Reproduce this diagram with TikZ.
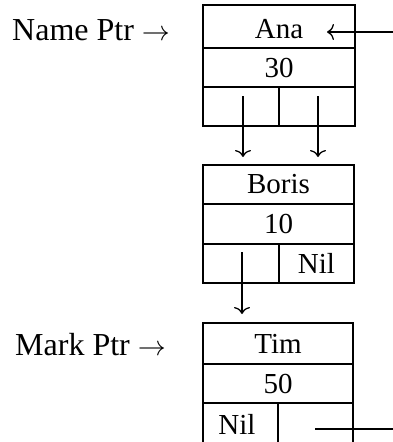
\RequirePackage{fix-cm}
\documentclass[tikz,border=0pt]{standalone}
\usepackage{fontspec}
\setmainfont{Liberation Serif}
\usetikzlibrary{arrows.meta}
\newcommand{\ptrarrow}{{\fontsize{28}{28}\selectfont$\rightarrow$}}
\begin{document}
\begin{tikzpicture}[x=1pt,y=-1pt,
  cell/.style={draw, line width=1.4pt, inner sep=0pt, outer sep=0pt,
    font=\fontsize{29}{30}\selectfont},
  txt/.style={inner sep=0pt, font=\fontsize{29}{30}\selectfont},
  lbl/.style={inner sep=0pt, anchor=base west, font=\fontsize{32}{33}\selectfont},
  arr/.style={line width=1.3pt, -{To[length=7pt,width=16pt]}},
  ln/.style={line width=1.3pt}]
\clip (0,0) rectangle (393,442);
\useasboundingbox (0,0) rectangle (393,442);
% box 1
\node[cell, minimum width=152pt, minimum height=43pt, text height=24pt, text depth=0pt] (ana) at (279,26.5) {Ana};
\node[cell, minimum width=152pt, minimum height=39pt] (a30) at (279,67.5) {30};
\node[cell, minimum width=76pt, minimum height=39pt] (aL) at (241,106.5) {};
\node[cell, minimum width=76pt, minimum height=39pt] (aR) at (317,106.5) {};
% box 2
\node[cell, minimum width=151pt, minimum height=39pt] (boris) at (278.5,184.5) {Boris};
\node[cell, minimum width=151pt, minimum height=40pt] (b10) at (278.5,224) {10};
\node[cell, minimum width=76pt, minimum height=39pt] (bL) at (241,263.5) {};
\node[cell, minimum width=75pt, minimum height=39pt] (bR) at (316.5,263.5) {Nil};
% box 3
\node[cell, minimum width=150pt, minimum height=41pt] (tim) at (278,343.5) {Tim};
\node[cell, minimum width=150pt, minimum height=39pt] (t50) at (278,383.5) {50};
\node[cell, minimum width=75pt, minimum height=49pt] (tL) at (240.5,427.5) {};
\node[cell, minimum width=75pt, minimum height=49pt] (tR) at (315.5,427.5) {};
\node[txt, anchor=base] (tnil) at (237,434) {Nil};
% labels
\node[lbl] (nameptr) at (12,40) {Name Ptr \ptrarrow};
\node[lbl] (markptr) at (15,355) {Mark Ptr \ptrarrow};
% connectors
\coordinate (inStart) at (393,32);
\coordinate (inTip) at (327,32);
\draw[arr] (inStart) -- (inTip);
\coordinate (d1s) at (243,96);
\coordinate (d1e) at (243,157);
\draw[arr] (d1s) -- (d1e);
\coordinate (d2s) at (318,96);
\coordinate (d2e) at (318,157);
\draw[arr] (d2s) -- (d2e);
\coordinate (d3s) at (242,252);
\coordinate (d3e) at (242,314);
\draw[arr] (d3s) -- (d3e);
\coordinate (outS) at (315,429);
\coordinate (outE) at (393,429);
\draw[ln] (outS) -- (outE);
\end{tikzpicture}
\end{document}
